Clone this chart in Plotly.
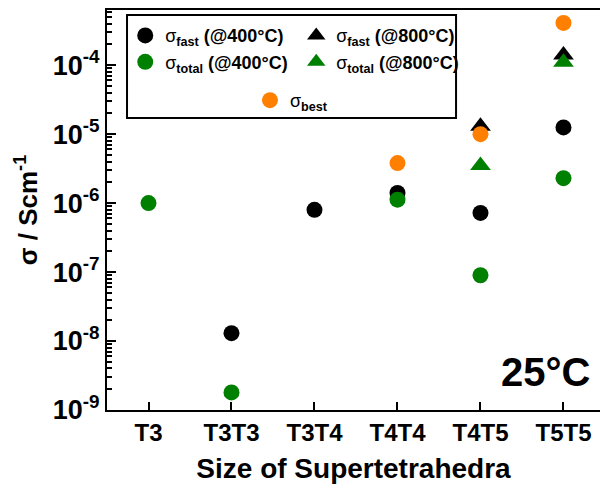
import plotly.graph_objects as go

# Conductivity at 25 °C versus supertetrahedral cluster size
categories = ["T3", "T3T3", "T3T4", "T4T4", "T4T5", "T5T5"]
sigma_fast_400 = [None, 1.3e-8, 8.0e-7, 1.4e-6, 7.2e-7, 1.25e-5]
sigma_total_400 = [1.0e-6, 1.8e-9, None, 1.12e-6, 9.0e-8, 2.3e-6]
sigma_fast_800 = [None, None, None, None, 1.3e-5, 1.4e-4]
sigma_total_800 = [None, None, None, None, 3.5e-6, 1.1e-4]
sigma_best = [None, None, None, 3.8e-6, 1.0e-5, 4.1e-4]

y_tick_vals = [1e-9, 1e-8, 1e-7, 1e-6, 1e-5, 1e-4]
y_tick_text = ["10<sup>-9</sup>", "10<sup>-8</sup>", "10<sup>-7</sup>",
               "10<sup>-6</sup>", "10<sup>-5</sup>", "10<sup>-4</sup>"]
# minor ticks: 2..9 within each decade
y_minor_vals = [m * d for d in y_tick_vals for m in range(2, 10)]

Y_RANGE = [-9.0, -3.2]
BLACK = "#000000"
GREEN = "#008000"
ORANGE = "#FF8000"
FONT = "Liberation Sans, Arial, sans-serif"


def sig(sub, rest=""):
    return f"<span style='font-weight:normal'>σ</span><sub>{sub}</sub>{rest}"


fig = go.Figure()

# drawing order: black circles, black triangles, green circles, green triangles, orange
fig.add_trace(go.Scatter(
    x=categories, y=sigma_fast_400, mode="markers", name=sig("fast", " (@400°C)"),
    marker=dict(symbol="circle", size=16, color=BLACK, line=dict(width=0)),
    legendrank=1, legend="legend"))
fig.add_trace(go.Scatter(
    x=categories, y=sigma_fast_800, mode="markers", name=sig("fast", " (@800°C)"),
    marker=dict(symbol="triangle-up", size=18, color=BLACK, line=dict(width=0)),
    legendrank=2, legend="legend"))
fig.add_trace(go.Scatter(
    x=categories, y=sigma_total_400, mode="markers", name=sig("total", " (@400°C)"),
    marker=dict(symbol="circle", size=16, color=GREEN, line=dict(width=0)),
    legendrank=3, legend="legend"))
fig.add_trace(go.Scatter(
    x=categories, y=sigma_total_800, mode="markers", name=sig("total", " (@800°C)"),
    marker=dict(symbol="triangle-up", size=18, color=GREEN, line=dict(width=0)),
    legendrank=4, legend="legend"))
fig.add_trace(go.Scatter(
    x=categories, y=sigma_best, mode="markers", name=sig("best"),
    marker=dict(symbol="circle", size=16, color=ORANGE, line=dict(width=0)),
    legend="legend2"))
# empty trace that attaches the minor-tick companion axis
fig.add_trace(go.Scatter(x=[], y=[], yaxis="y2", mode="markers",
                         showlegend=False, hoverinfo="skip"))

# legend frame
fig.add_shape(type="rect", xref="paper", yref="paper",
              x0=0.0406, x1=0.708, y0=0.73, y1=0.9875,
              line=dict(color=BLACK, width=2), fillcolor="rgba(0,0,0,0)", layer="above")

fig.add_annotation(text="25°C", xref="paper", yref="paper", x=0.983, y=0.095,
                   xanchor="right", yanchor="middle", showarrow=False,
                   font=dict(family=FONT, size=40, color=BLACK, weight="bold"))

fig.update_layout(
    width=600, height=486,
    margin=dict(l=107, r=0, t=10, b=76),
    paper_bgcolor="white", plot_bgcolor="white",
    font=dict(family=FONT, color=BLACK, weight="bold"),
    legend=dict(orientation="h", x=0.037, y=0.982, xanchor="left", yanchor="top",
                entrywidth=126, entrywidthmode="pixels",
                font=dict(family=FONT, size=18, color=BLACK, weight="bold"),
                bgcolor="rgba(0,0,0,0)", borderwidth=0, itemwidth=30),
    legend2=dict(orientation="h", x=0.29, y=0.82, xanchor="left", yanchor="top",
                 font=dict(family=FONT, size=18, color=BLACK, weight="bold"),
                 bgcolor="rgba(0,0,0,0)", borderwidth=0, itemwidth=30),
    xaxis=dict(
        type="category", categoryorder="array", categoryarray=categories,
        range=[-0.5, 5.44],
        showline=True, linecolor=BLACK, linewidth=2, mirror=True,
        ticks="inside", ticklen=8, tickwidth=2, tickcolor=BLACK,
        showgrid=False, zeroline=False,
        tickfont=dict(family=FONT, size=24, color=BLACK, weight="bold"),
        title=dict(text="Size of Supertetrahedra", standoff=14,
                   font=dict(family=FONT, size=28, color=BLACK, weight="bold")),
    ),
    yaxis=dict(
        type="log", range=Y_RANGE,
        tickmode="array", tickvals=y_tick_vals, ticktext=y_tick_text,
        showline=True, linecolor=BLACK, linewidth=2, mirror=False,
        ticks="inside", ticklen=9, tickwidth=2, tickcolor=BLACK,
        showgrid=False, zeroline=False,
        tickfont=dict(family=FONT, size=27, color=BLACK, weight="bold"),
        title=dict(text="σ / Scm<sup>-1</sup>", standoff=8,
                   font=dict(family=FONT, size=26, color=BLACK, weight="bold")),
    ),
    # companion axis carrying only the short minor ticks
    yaxis2=dict(
        type="log", range=Y_RANGE, overlaying="y", anchor="x", side="left",
        tickmode="array", tickvals=y_minor_vals, showticklabels=False,
        ticks="inside", ticklen=5, tickwidth=1.5, tickcolor=BLACK,
        showline=False, showgrid=False, zeroline=False,
    ),
)

fig.write_html("out.html")
